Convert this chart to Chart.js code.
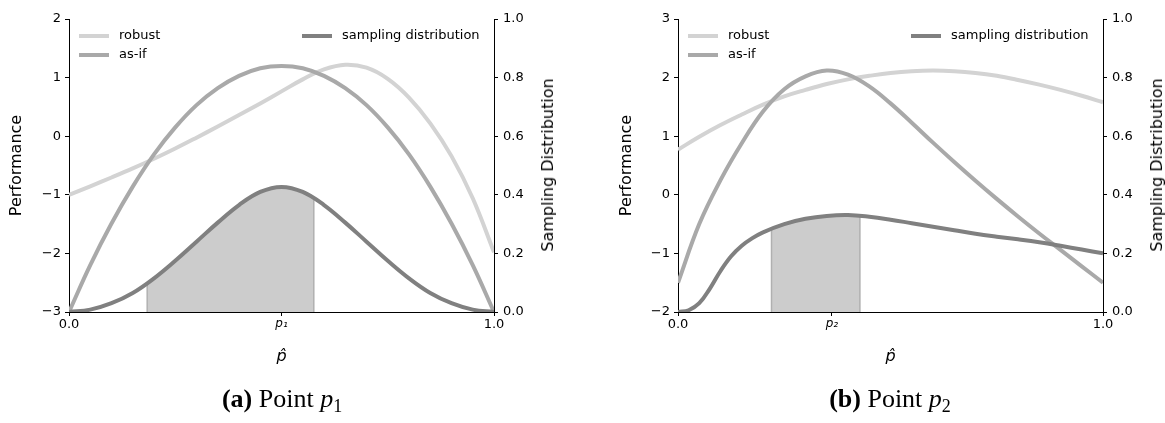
<!DOCTYPE html>
<html>
<head>
<meta charset="utf-8">
<script src="https://cdn.jsdelivr.net/npm/chart.js@4.4.1/dist/chart.umd.min.js"></script>
<style>
    body { margin: 0; background: #fff; }
    #wrap { position: relative; width: 1165px; height: 423px; overflow: hidden; font-family: "DejaVu Sans", sans-serif; }
    .panel { position: absolute; top: 0; }
    .lg-line { position: absolute; height: 4px; }
    .lg-text { position: absolute; font-size: 13px; line-height: 16px; color: #000; white-space: nowrap; }
    .ytitle { position: absolute; font-size: 16px; line-height: 20px; color: #000; white-space: nowrap; transform: translate(-50%, -50%) rotate(-90deg); }
    .cap { position: absolute; text-align: center; font-family: "Liberation Serif", serif; font-size: 26px; line-height: 28px; color: #000; }
    .cap sub { font-size: 18px; vertical-align: -5px; line-height: 0; }
</style>
</head>
<body>
<div id="wrap">
    <div class="panel" style="left:0;width:582px;height:423px"><canvas id="chartA" width="582" height="423"></canvas></div>
    <div class="panel" style="left:582px;width:583px;height:423px"><canvas id="chartB" width="583" height="423"></canvas></div>
    <div class="ytitle" style="left:548px;top:165px">Sampling Distribution</div>
    <div class="ytitle" style="left:1157px;top:165px">Sampling Distribution</div>
    <div class="cap" style="left:0;width:564px;top:385px"><b>(a)</b> Point <i>p</i><sub>1</sub></div>
    <div class="cap" style="left:600px;width:580px;top:385px"><b>(b)</b> Point <i>p</i><sub>2</sub></div>
</div>
<script>
// shared x grid for the performance curves
const xGrid = [0, 0.05, 0.1, 0.15, 0.2, 0.25, 0.3, 0.35, 0.4, 0.45, 0.5,
    0.55, 0.6, 0.65, 0.7, 0.75, 0.8, 0.85, 0.9, 0.95, 1.0];

// panel (a)
const robustA = [-1.00, -0.855, -0.705, -0.55, -0.385, -0.21, -0.025, 0.165, 0.36, 0.56, 0.765,
    0.97, 1.14, 1.22, 1.17, 0.98, 0.66, 0.22, -0.34, -1.06, -1.98];
const asIfA = [-3.00, -2.20, -1.49, -0.86, -0.31, 0.15, 0.53, 0.82, 1.03, 1.16, 1.20,
    1.16, 1.03, 0.82, 0.53, 0.15, -0.31, -0.86, -1.49, -2.20, -3.00];
const samplingXA = xGrid;
const samplingA = [0.000, 0.008, 0.030, 0.065, 0.115, 0.175, 0.240, 0.305, 0.365, 0.410, 0.427,
    0.410, 0.365, 0.305, 0.240, 0.175, 0.115, 0.065, 0.030, 0.008, 0.000];
const shadeA = [0.184, 0.576];
const xTicksA = [0, 0.5, 1];
const xTickLabelsA = ['0.0', 'p\u2081', '1.0'];
const perfTicksA = [-3, -2, -1, 0, 1, 2];

// panel (b)
const robustB = [0.77, 0.99, 1.19, 1.37, 1.54, 1.68, 1.79, 1.89, 1.97, 2.03, 2.08,
    2.11, 2.12, 2.11, 2.08, 2.03, 1.96, 1.88, 1.79, 1.69, 1.58];
const asIfB = [-1.50, -0.50, 0.25, 0.88, 1.42, 1.80, 2.02, 2.12, 2.05, 1.85, 1.56,
    1.23, 0.89, 0.56, 0.24, -0.07, -0.37, -0.66, -0.94, -1.22, -1.50];
const samplingXB = [0, 0.025, 0.05, 0.075, 0.1, 0.125, 0.15, 0.175, 0.2,
    0.25, 0.3, 0.35, 0.4, 0.45, 0.5, 0.55, 0.6, 0.65, 0.7, 0.75, 0.8, 0.85, 0.9, 0.95, 1.0];
const samplingB = [0.000, 0.006, 0.030, 0.080, 0.140, 0.190, 0.226, 0.252, 0.272,
    0.300, 0.318, 0.328, 0.331, 0.325, 0.315, 0.303, 0.291, 0.279, 0.267, 0.257, 0.248, 0.238, 0.226, 0.213, 0.200];
const shadeB = [0.22, 0.428];
const xTicksB = [0, 0.362, 1];
const xTickLabelsB = ['0.0', 'p\u2082', '1.0'];
const perfTicksB = [-2, -1, 0, 1, 2, 3];

const samplingTicks = [0, 0.2, 0.4, 0.6, 0.8, 1.0];

const FONT = '"DejaVu Sans", sans-serif';

// value of the sampling curve at x (linear between read points)
const interp = (xs, ys, x) => {
    for (let i = 1; i < xs.length; i++) {
        if (x <= xs[i]) {
            const t = (x - xs[i - 1]) / (xs[i] - xs[i - 1]);
            return ys[i - 1] + t * (ys[i] - ys[i - 1]);
        }
    }
    return ys[ys.length - 1];
};

const toPoints = (xs, ys) => xs.map((x, i) => ({ x: x, y: ys[i] }));

const axisCommon = (extra) => Object.assign({
    grid: { display: true, drawOnChartArea: false, drawTicks: true, tickLength: 4, tickColor: '#000', tickWidth: 1 },
    border: { display: true, color: '#000', width: 1 }
}, extra);

const makeChart = (id, cfg) => {
    const [a, b] = cfg.shade;
    const inside = cfg.sx.filter(x => x > a && x < b);
    const shadePts = [{ x: a, y: interp(cfg.sx, cfg.sy, a) }]
        .concat(inside.map(x => ({ x: x, y: interp(cfg.sx, cfg.sy, x) })))
        .concat([{ x: b, y: interp(cfg.sx, cfg.sy, b) }]);

    const line = (label, data, color, axis, order) => ({
        label: label, data: data, borderColor: color, backgroundColor: color,
        borderWidth: 4, pointRadius: 0, fill: false, tension: 0.4,
        yAxisID: axis, order: order
    });

    return new Chart(document.getElementById(id), {
        type: 'line',
        data: {
            datasets: [
                line('sampling distribution', toPoints(cfg.sx, cfg.sy), '#808080', 'y2', 0),
                {
                    label: 'edge-left', data: [{ x: a, y: 0 }, shadePts[0]],
                    borderColor: '#b0b0b0', borderWidth: 1.5, pointRadius: 0, yAxisID: 'y2', order: 1
                },
                {
                    label: 'edge-right', data: [{ x: b, y: 0 }, shadePts[shadePts.length - 1]],
                    borderColor: '#b0b0b0', borderWidth: 1.5, pointRadius: 0, yAxisID: 'y2', order: 1
                },
                {
                    label: 'shade', data: shadePts, borderWidth: 0, borderColor: 'rgba(0,0,0,0)',
                    backgroundColor: '#cccccc', fill: 'origin', pointRadius: 0,
                    tension: 0.4, yAxisID: 'y2', order: 2
                },
                line('as-if', toPoints(xGrid, cfg.asIf), '#a9a9a9', 'y', 3),
                line('robust', toPoints(xGrid, cfg.robust), '#d3d3d3', 'y', 4)
            ]
        },
        options: {
            responsive: false,
            animation: false,
            layout: { padding: { left: 0, right: 0, top: 19, bottom: 53 } },
            plugins: { legend: { display: false }, tooltip: { enabled: false } },
            scales: {
                x: axisCommon({
                    type: 'linear', min: 0, max: 1,
                    afterBuildTicks: s => { s.ticks = cfg.xTicks.map(v => ({ value: v })); },
                    afterFit: s => { s.height = 58; },
                    ticks: {
                        autoSkip: false, maxRotation: 0, padding: 1, color: '#000',
                        callback: (v, i) => cfg.xLabels[i],
                        font: ctx => ctx.index === 1
                            ? { family: FONT, size: 12, style: 'italic' }
                            : { family: FONT, size: 13 }
                    },
                    title: {
                        display: true, text: 'p\u0302', color: '#000',
                        font: { family: FONT, size: 16, style: 'italic' },
                        padding: { top: 0, bottom: 4 }
                    }
                }),
                y: axisCommon({
                    type: 'linear', position: 'left',
                    min: cfg.perfTicks[0], max: cfg.perfTicks[cfg.perfTicks.length - 1],
                    afterBuildTicks: s => { s.ticks = cfg.perfTicks.map(v => ({ value: v })); },
                    afterFit: s => { s.width = cfg.leftW; },
                    ticks: {
                        padding: 4, color: '#000', font: { family: FONT, size: 13 },
                        callback: v => v < 0 ? '\u2212' + Math.abs(v) : String(v)
                    },
                    title: {
                        display: true, text: 'Performance', color: '#000',
                        font: { family: FONT, size: 16 },
                        padding: { top: cfg.titlePad, bottom: 0 }
                    }
                }),
                y2: axisCommon({
                    type: 'linear', position: 'right', min: 0, max: 1,
                    afterBuildTicks: s => { s.ticks = samplingTicks.map(v => ({ value: v })); },
                    afterFit: s => { s.width = cfg.rightW; },
                    ticks: {
                        padding: 5, color: '#000', font: { family: FONT, size: 13 },
                        callback: v => v.toFixed(1)
                    }
                })
            }
        }
    });
};

// HTML legend built from the chart's own datasets
const makeLegend = (chart, label, left, top) => {
    const ds = chart.data.datasets.find(d => d.label === label);
    const wrap = document.getElementById('wrap');
    const ln = document.createElement('div');
    ln.className = 'lg-line';
    ln.style.left = left + 'px';
    ln.style.top = (top - 2) + 'px';
    ln.style.width = '30px';
    ln.style.background = ds.borderColor;
    wrap.appendChild(ln);
    const tx = document.createElement('div');
    tx.className = 'lg-text';
    tx.style.left = (left + 40) + 'px';
    tx.style.top = (top - 9) + 'px';
    tx.textContent = label;
    wrap.appendChild(tx);
};

const chartA = makeChart('chartA', {
    robust: robustA, asIf: asIfA, sx: samplingXA, sy: samplingA, shade: shadeA,
    xTicks: xTicksA, xLabels: xTickLabelsA, perfTicks: perfTicksA,
    leftW: 69, rightW: 88, titlePad: 7.5
});
const chartB = makeChart('chartB', {
    robust: robustB, asIf: asIfB, sx: samplingXB, sy: samplingB, shade: shadeB,
    xTicks: xTicksB, xLabels: xTickLabelsB, perfTicks: perfTicksB,
    leftW: 96, rightW: 62, titlePad: 35.5
});

makeLegend(chartA, 'robust', 79, 36);
makeLegend(chartA, 'as-if', 79, 55);
makeLegend(chartA, 'sampling distribution', 302, 36);
makeLegend(chartB, 'robust', 688, 36);
makeLegend(chartB, 'as-if', 688, 55);
makeLegend(chartB, 'sampling distribution', 911, 36);
</script>
</body>
</html>
